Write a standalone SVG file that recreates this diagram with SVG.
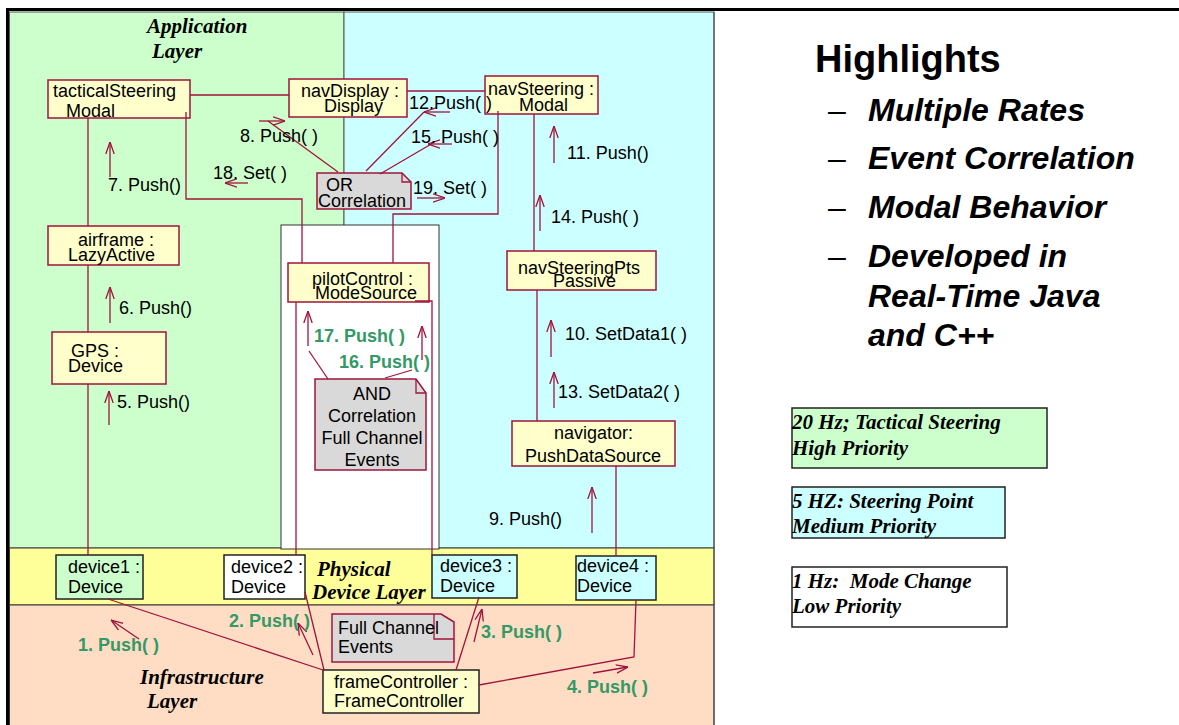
<svg xmlns="http://www.w3.org/2000/svg" width="1179" height="725" viewBox="0 0 1179 725">
<style>
.n{fill:#FFFFCC;stroke:#A0143C;stroke-width:1.5}
.d{stroke:#222;stroke-width:1.5}
.note{fill:#D9D9D9;stroke:#A0143C;stroke-width:1.5}
.t{font-family:"Liberation Sans",Arial,sans-serif;font-size:18px;fill:#000}
.g{font-family:"Liberation Sans",Arial,sans-serif;font-size:18px;font-weight:bold;fill:#339966}
.lay{font-family:"Liberation Serif","Times New Roman",serif;font-size:21px;font-weight:bold;font-style:italic;fill:#000}
.c{fill:none;stroke:#A0143C;stroke-width:1.3}
.a{fill:none;stroke:#A0143C;stroke-width:1.3;marker-end:url(#ah)}
.h{font-family:"Liberation Sans",Arial,sans-serif;font-weight:bold;fill:#000}
</style>
<defs>
<marker id="ah" viewBox="0 0 12 10" refX="12" refY="5" markerWidth="12" markerHeight="10" markerUnits="userSpaceOnUse" orient="auto">
<path d="M0,0.8 L12,5 L0,9.2" fill="none" stroke="#A0143C" stroke-width="1.3"/>
</marker>
</defs>

<g id="background">
<rect x="0" y="0" width="1179" height="725" fill="#fff"/>
<rect x="9.5" y="12" width="334.5" height="536" fill="#CCFFCC" stroke="#555" stroke-width="1"/>
<rect x="344" y="12" width="370" height="536" fill="#CCFFFF" stroke="#555" stroke-width="1"/>
<rect x="9.5" y="548" width="704.5" height="57" fill="#FFFF99" stroke="#333" stroke-width="1"/>
<rect x="9.5" y="605" width="704.5" height="125" fill="#FFDDC4" stroke="#333" stroke-width="1"/>
<rect x="281" y="225" width="158" height="324" fill="#fff" stroke="#333" stroke-width="1"/>
<line x1="714" y1="12" x2="714" y2="725" stroke="#555" stroke-width="1.2"/>
<rect x="6" y="8" width="1173" height="3" fill="#000"/>
<rect x="6" y="8" width="3" height="717" fill="#000"/>
<text class="lay" x="147" y="33">Application</text>
<text class="lay" x="152" y="58">Layer</text>
<text class="lay" x="317" y="576">Physical</text>
<text class="lay" x="312" y="599">Device Layer</text>
<text class="lay" x="140" y="684">Infrastructure</text>
<text class="lay" x="147" y="708">Layer</text>
</g>

<g id="tacticalSteering">
<rect class="n" x="48" y="80" width="142" height="38"/>
<text class="t" x="53" y="97">tacticalSteering</text>
<text class="t" x="66" y="116.5">Modal</text>
</g>
<g id="navDisplay">
<rect class="n" x="289" y="79" width="118" height="38"/>
<text class="t" x="301" y="97">navDisplay :</text>
<text class="t" x="324" y="112">Display</text>
</g>
<g id="navSteering">
<rect class="n" x="485" y="76" width="113" height="38"/>
<text class="t" x="488" y="95">navSteering :</text>
<text class="t" x="519" y="111">Modal</text>
</g>
<g id="airframe">
<rect class="n" x="48" y="226" width="131" height="39"/>
<text class="t" x="78" y="246">airframe :</text>
<text class="t" x="68" y="261">LazyActive</text>
</g>
<g id="gps">
<rect class="n" x="52" y="332" width="114" height="52"/>
<text class="t" x="71" y="357">GPS :</text>
<text class="t" x="68" y="372">Device</text>
</g>
<g id="pilotControl">
<rect class="n" x="288" y="263" width="141" height="39"/>
<text class="t" x="312" y="285">pilotControl :</text>
<text class="t" x="315" y="299">ModeSource</text>
</g>
<g id="navSteeringPts">
<rect class="n" x="507" y="251" width="149" height="39"/>
<text class="t" x="518" y="274">navSteeringPts</text>
<text class="t" x="553" y="287">Passive</text>
</g>
<g id="navigator">
<rect class="n" x="512" y="421" width="163" height="45"/>
<text class="t" x="554" y="439">navigator:</text>
<text class="t" x="525" y="462">PushDataSource</text>
</g>
<g id="andCorrelation">
<path class="note" d="M315,379 H416 L426,393 V470 H315 Z"/>
<path class="c" d="M416,379 V393 H426"/>
<text class="t" x="372" y="400" text-anchor="middle">AND</text>
<text class="t" x="372" y="422" text-anchor="middle">Correlation</text>
<text class="t" x="372" y="444" text-anchor="middle">Full Channel</text>
<text class="t" x="372" y="466" text-anchor="middle">Events</text>
</g>
<g id="orCorrelation">
<path class="note" d="M317,173 H402 L411,182 V209 H317 Z"/>
<path class="c" d="M402,173 V182 H411"/>
<text class="t" x="326" y="191">OR</text>
<text class="t" x="318" y="207">Correlation</text>
</g>
<g id="device1">
<rect class="d" x="56" y="555" width="87" height="44" fill="#CCFFCC"/>
<text class="t" x="68" y="573">device1 :</text>
<text class="t" x="68" y="593">Device</text>
</g>
<g id="device2">
<rect class="d" x="224" y="555" width="81" height="44" fill="#fff"/>
<text class="t" x="231" y="573">device2 :</text>
<text class="t" x="231" y="593">Device</text>
</g>
<g id="device3">
<rect class="d" x="432" y="555" width="85" height="43" fill="#CCFFFF"/>
<text class="t" x="440" y="572">device3 :</text>
<text class="t" x="440" y="592">Device</text>
</g>
<g id="device4">
<rect class="d" x="576" y="556" width="80" height="44" fill="#CCFFFF"/>
<text class="t" x="577" y="572">device4 :</text>
<text class="t" x="577" y="592">Device</text>
</g>
<g id="fullChannel">
<path class="note" d="M332,614 H441 L454,622 V662 H332 Z"/>
<path class="c" d="M434,614 V639 H454"/>
<text class="t" x="338" y="634">Full Channel</text>
<text class="t" x="338" y="653">Events</text>
</g>
<g id="frameController">
<rect class="d" x="323" y="670" width="156" height="43" fill="#FFFFCC"/>
<text class="t" x="334" y="688">frameController :</text>
<text class="t" x="334" y="707">FrameController</text>
</g>

<g id="connectors">
<path class="c" d="M190,95 H289"/>
<path class="c" d="M407,91 H485"/>
<path class="c" d="M88,118 V226 M88,265 V332 M88,384 V555"/>
<path class="c" d="M186,112 V199 H302 V263"/>
<path class="c" d="M498,111 V214 H393 V263"/>
<path class="c" d="M534,114 V251 M537,290 V421"/>
<path class="c" d="M616,466 V556"/>
<path class="c" d="M296,302 V555"/>
<path class="c" d="M415,301 H432 V555"/>
<path class="c" d="M108,599 L323,670"/>
<path class="c" d="M305,592 L324,670"/>
<path class="c" d="M479,597 L456,670"/>
<path class="c" d="M636,600 L634,657 L479,685"/>
<path class="c" d="M338,172 L268,121"/>
<path class="c" d="M366,171 L424,112"/>
<path class="c" d="M380,174 L433,143"/>
<path class="c" d="M328,379 L309,351"/>
<path class="c" d="M385,378 L412,370"/>
<path class="a" d="M110,177 V142"/>
<path class="a" d="M110,323 V287"/>
<path class="a" d="M109,425 V391"/>
<path class="a" d="M259,121 H285"/>
<path class="a" d="M248,183 H225"/>
<path class="a" d="M450,112 H424"/>
<path class="a" d="M452,144 H428"/>
<path class="a" d="M417,198 H445"/>
<path class="a" d="M554,163 V126"/>
<path class="a" d="M540,231 V195"/>
<path class="a" d="M551,357 V320"/>
<path class="a" d="M554,408 V372"/>
<path class="a" d="M592,533 V487"/>
<path class="a" d="M308,346 V311"/>
<path class="a" d="M422,360 V326"/>
<path class="a" d="M139,639 L111,620"/>
<path class="a" d="M313,655 L298,623"/>
<path class="a" d="M474,642 L482,609"/>
<path class="a" d="M593,673 L628,667"/>
</g>

<g id="labels">
<text class="t" x="108" y="191">7. Push()</text>
<text class="t" x="119" y="314">6. Push()</text>
<text class="t" x="117" y="408">5. Push()</text>
<text class="t" x="240" y="142">8. Push( )</text>
<text class="t" x="213" y="179">18. Set( )</text>
<text class="t" x="409" y="109">12.Push( )</text>
<text class="t" x="411" y="143">15. Push( )</text>
<text class="t" x="413" y="194">19. Set( )</text>
<text class="t" x="567" y="159">11. Push()</text>
<text class="t" x="551" y="223">14. Push( )</text>
<text class="t" x="565" y="340">10. SetData1( )</text>
<text class="t" x="558" y="398">13. SetData2( )</text>
<text class="t" x="489" y="525">9. Push()</text>
<text class="g" x="314" y="342">17. Push( )</text>
<text class="g" x="339" y="368">16. Push( )</text>
<text class="g" x="78" y="651">1. Push( )</text>
<text class="g" x="229" y="627">2. Push( )</text>
<text class="g" x="481" y="638">3. Push( )</text>
<text class="g" x="567" y="693">4. Push( )</text>
</g>

<g id="highlights">
<text class="h" x="815" y="72" font-size="38">Highlights</text>
<g font-family="Liberation Sans,Arial,sans-serif" font-size="32" fill="#000">
<text x="828" y="121">–</text>
<text x="828" y="169">–</text>
<text x="828" y="218">–</text>
<text x="828" y="267">–</text>
</g>
<g font-family="Liberation Sans,Arial,sans-serif" font-size="32" font-weight="bold" font-style="italic" fill="#000">
<text x="868" y="121">Multiple Rates</text>
<text x="868" y="169">Event Correlation</text>
<text x="868" y="218">Modal Behavior</text>
<text x="868" y="267">Developed in</text>
<text x="868" y="307">Real-Time Java</text>
<text x="868" y="346">and C++</text>
</g>
</g>

<g id="legend" font-family="Liberation Serif,Times New Roman,serif" font-size="21" font-weight="bold" font-style="italic" fill="#000">
<rect x="792" y="408" width="255" height="60" fill="#CCFFCC" stroke="#222" stroke-width="1.5"/>
<text x="792" y="429">20 Hz; Tactical Steering</text>
<text x="792" y="455">High Priority</text>
<rect x="792" y="487" width="213" height="51" fill="#CCFFFF" stroke="#222" stroke-width="1.5"/>
<text x="792" y="508">5 HZ: Steering Point</text>
<text x="792" y="533">Medium Priority</text>
<rect x="792" y="567" width="215" height="60" fill="#fff" stroke="#222" stroke-width="1.5"/>
<text x="792" y="588" xml:space="preserve">1 Hz:  Mode Change</text>
<text x="792" y="613">Low Priority</text>
</g>
</svg>
